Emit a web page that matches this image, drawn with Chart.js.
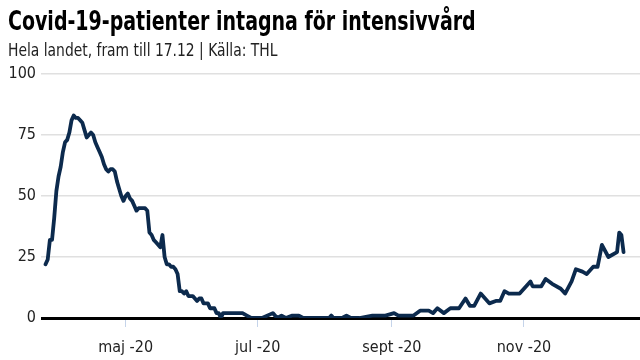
<!DOCTYPE html>
<html>
<head>
<meta charset="utf-8">
<script src="https://cdn.jsdelivr.net/npm/chart.js@4/dist/chart.umd.min.js"></script>
<style>
  html, body { margin: 0; padding: 0; background: #fff; }
  #wrap { position: relative; width: 640px; height: 360px; overflow: hidden; }
  #title { position: absolute; left: 8px; top: 5px; font-family: 'DejaVu Sans Condensed', sans-serif; font-weight: bold; font-size: 27px; color: #000; white-space: nowrap; transform: scaleX(0.782); transform-origin: 0 0; }
  #subtitle { position: absolute; left: 8px; top: 39px; font-family: 'DejaVu Sans Condensed', sans-serif; font-size: 18px; color: #222; white-space: nowrap; transform: scaleX(0.857); transform-origin: 0 0; }
  canvas { position: absolute; left: 0; top: 0; }
</style>
</head>
<body>
<div id="wrap">
  <canvas id="c" width="640" height="360"></canvas>
  <div id="title">Covid-19-patienter intagna för intensivvård</div>
  <div id="subtitle">Hela landet, fram till 17.12 | Källa: THL</div>
</div>
<script>
// Dates (day.month, 2020) and ICU patient counts
const dates = [
  '25.3','26.3','27.3','28.3','29.3','30.3','31.3',
  '1.4','2.4','3.4','4.4','5.4','6.4','7.4','8.4','9.4','10.4',
  '11.4','12.4','13.4','14.4','15.4','16.4','17.4','18.4','19.4','20.4',
  '21.4','22.4','23.4','24.4','25.4','26.4','27.4','28.4','29.4','30.4',
  '1.5','2.5','3.5','4.5','5.5','6.5','7.5','8.5','9.5','10.5',
  '11.5','12.5','13.5','14.5','15.5','16.5','17.5','18.5','19.5','20.5',
  '21.5','22.5','23.5','24.5','25.5','26.5','27.5','28.5','29.5','30.5','31.5',
  '1.6','2.6','3.6','4.6','5.6','6.6','7.6','8.6','9.6','10.6',
  '11.6','12.6','13.6','14.6','15.6','16.6',
  '24.6','26.6','28.6','3.7','8.7','10.7','12.7','14.7','17.7','20.7','22.7',
  '3.8','4.8','5.8','9.8','11.8','13.8','17.8','23.8','29.8',
  '2.9','4.9','11.9','14.9','18.9','20.9','22.9','25.9','28.9',
  '2.10','5.10','7.10','9.10','12.10','16.10','19.10','21.10','23.10','25.10','30.10',
  '4.11','5.11','9.11','11.11','14.11','18.11','20.11','23.11','25.11','28.11','30.11',
  '3.12','5.12','7.12','10.12','14.12','15.12','16.12','17.12'
];
const patients = [
  22,24,32,32,41,52,58,
  62,68,72,73,76,81,83,82,82,81,
  80,77,74,75,76,75,72,70,68,66,
  63,61,60,61,61,60,56,53,50,48,
  50,51,49,48,46,44,45,45,45,45,
  44,35,34,32,31,30,29,34,25,22,
  22,21,21,20,18,11,11,10,11,9,9,
  9,8,7,8,8,6,6,6,4,4,
  4,2,2,0,2,2,
  2,1,0,0,2,0,1,0,1,1,0,
  0,1,0,0,1,0,0,1,1,
  2,1,1,3,3,2,4,2,4,
  4,8,5,5,10,6,7,7,11,10,10,
  15,13,13,16,14,12,10,15,20,19,18,
  21,21,30,25,27,35,34,27
];
// Month tick labels (month number -> label)
const tickMonths = [5, 7, 9, 11];
const tickLabels = ['maj -20', 'jul -20', 'sept -20', 'nov -20'];
const yTicks = [0, 25, 50, 75, 100];

function dayNum(d, m) {
  return (Date.UTC(2020, m - 1, d) - Date.UTC(2020, 0, 1)) / 864e5 + 1;
}
const points = dates.map((s, i) => {
  const [d, m] = s.split('.').map(Number);
  return { x: dayNum(d, m), y: patients[i] };
});
const tickValues = tickMonths.map(m => dayNum(1, m));

const FONT = "'DejaVu Sans Condensed', sans-serif";

new Chart(document.getElementById('c'), {
  type: 'line',
  data: {
    datasets: [{
      data: points,
      borderColor: '#0c2a4d',
      borderWidth: 3.8,
      pointRadius: 0,
      tension: 0,
      borderJoinStyle: 'round',
      borderCapStyle: 'round'
    }]
  },
  options: {
    responsive: false,
    animation: false,
    layout: { padding: { top: 74, right: 0, left: 0, bottom: 0 } },
    plugins: { legend: { display: false }, tooltip: { enabled: false }, title: { display: false } },
    scales: {
      x: {
        type: 'linear',
        min: 82.9,
        max: 359.6,
        afterBuildTicks: (scale) => { scale.ticks = tickValues.map(v => ({ value: v })); },
        afterFit: (scale) => { scale.height = 42; },
        ticks: {
          autoSkip: false,
          maxRotation: 0,
          padding: 11,
          color: '#222',
          font: { family: FONT, size: 16 },
          callback: (v) => { const i = tickValues.indexOf(v); return i >= 0 ? tickLabels[i] : ''; }
        },
        grid: { drawOnChartArea: false, drawTicks: true, tickLength: 9, tickColor: '#c5d4ea', lineWidth: 1 },
        border: { display: false }
      },
      y: {
        min: 0,
        max: 100,
        afterBuildTicks: (scale) => { scale.ticks = yTicks.map(v => ({ value: v })); },
        afterFit: (scale) => { scale.width = 41; },
        ticks: {
          padding: 5,
          color: '#222',
          font: { family: FONT, size: 16 }
        },
        grid: {
          drawTicks: false,
          color: (ctx) => ctx.tick && ctx.tick.value === 0 ? '#000' : '#e0e0e0',
          lineWidth: (ctx) => ctx.tick && ctx.tick.value === 0 ? 3 : 1.5
        },
        border: { display: false }
      }
    }
  }
});
</script>
</body>
</html>
